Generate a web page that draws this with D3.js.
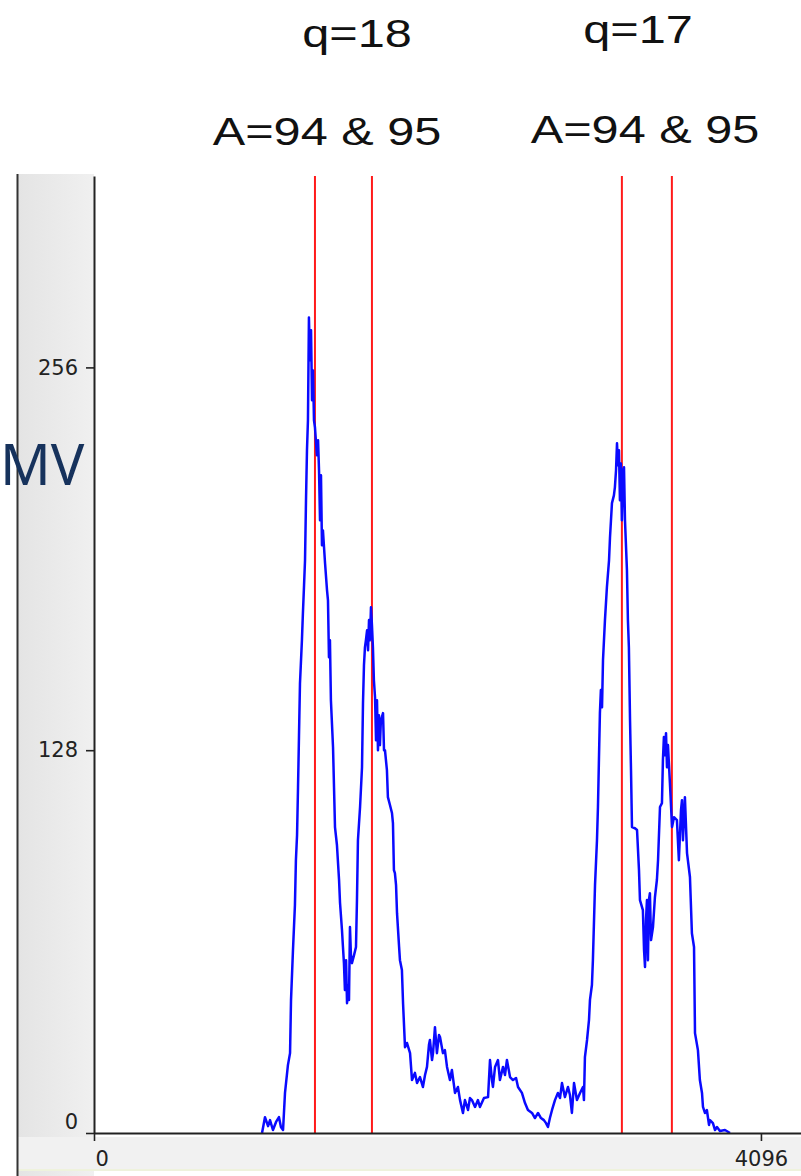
<!DOCTYPE html>
<html>
<head>
<meta charset="utf-8">
<script src="https://cdn.jsdelivr.net/npm/d3@7"></script>
<style>
  html, body { margin: 0; padding: 0; background: #fff; }
  svg { display: block; }
</style>
</head>
<body>
<svg id="chart" width="801" height="1176"></svg>
<script>
// Pulse-height spectrum: channel number vs counts
const channels = [1032,1050,1069,1081,1099,1118,1136,1148,1161,1173,1191,1204,1210,1222,1234,1240,1247,1253,1259,1265,1277,1283,1290,1296,1302,1308,1314,1320,1326,1333,1339,1345,1351,1357,1369,1376,1382,1388,1394,1400,1406,1419,1431,1437,1443,1449,1455,1468,1480,1492,1505,1511,1523,1529,1535,1541,1548,1554,1560,1566,1572,1578,1584,1597,1609,1615,1621,1634,1646,1652,1658,1664,1670,1677,1683,1689,1695,1701,1707,1713,1719,1726,1732,1738,1744,1750,1756,1762,1775,1781,1787,1799,1805,1818,1830,1836,1842,1848,1855,1861,1873,1879,1891,1898,1910,1922,1941,1953,1971,1984,2002,2020,2033,2045,2057,2063,2076,2082,2094,2106,2119,2125,2143,2155,2168,2186,2198,2217,2235,2248,2266,2278,2297,2309,2321,2340,2358,2370,2395,2420,2432,2444,2450,2463,2481,2493,2512,2524,2536,2555,2573,2592,2604,2628,2647,2665,2690,2708,2727,2745,2763,2776,2788,2800,2813,2831,2849,2862,2874,2892,2911,2923,2935,2948,2966,2985,3003,3009,3015,3028,3040,3046,3058,3064,3077,3089,3095,3101,3107,3113,3120,3126,3138,3150,3163,3169,3181,3193,3199,3206,3212,3218,3224,3230,3236,3242,3249,3255,3261,3273,3279,3285,3292,3298,3304,3322,3335,3347,3353,3371,3378,3384,3390,3396,3402,3408,3414,3421,3433,3445,3457,3464,3476,3488,3494,3500,3507,3513,3519,3525,3537,3550,3562,3580,3592,3605,3611,3617,3629,3642,3660,3672,3685,3691,3709,3721,3734,3740,3752,3764,3777,3783,3801,3814,3826,3844,3875,3906];
const counts = [0,5.3,2.3,4.3,1.0,3.7,5.3,2.0,1.0,13.4,22.7,26.7,44.5,61.2,76.2,91.2,99.6,115.6,133.0,150.4,164.8,173.8,183.2,191.5,211.6,228.3,238.3,272.7,258.4,268.4,245.0,255.0,238.3,236.0,226.6,231.6,221.6,204.9,219.9,196.5,201.5,190.5,181.5,178.1,159.1,164.8,144.7,129.0,102.3,96.3,84.6,76.9,67.8,62.2,56.8,47.8,57.8,43.4,49.5,44.5,68.9,59.5,56.8,59.5,62.2,77.9,97.9,109.0,122.3,143.7,156.4,162.4,164.8,168.1,161.4,171.5,164.8,175.8,169.8,162.4,151.4,145.7,131.3,144.7,128.0,139.7,129.7,138.0,140.4,128.0,128.0,121.3,112.3,109.6,107.0,103.6,87.9,86.9,82.9,73.5,62.8,57.8,54.5,43.4,28.7,30.1,26.7,17.7,20.1,16.7,18.7,15.4,19.4,22.1,29.4,31.1,24.4,26.7,35.4,26.7,32.8,32.1,26.7,27.7,22.1,17.7,21.1,13.4,15.4,11.0,6.7,11.0,7.7,11.7,11.0,8.7,11.0,8.7,11.7,12.0,24.4,17.7,15.4,22.1,24.4,17.7,22.1,19.4,24.4,18.7,17.7,18.4,15.4,13.4,10.0,7.7,6.7,5.0,6.7,5.0,4.3,3.3,2.0,5.0,7.7,11.0,13.4,11.7,16.7,12.0,15.4,12.7,6.7,16.7,11.0,13.4,15.4,11.0,25.4,31.1,37.8,44.5,49.5,57.8,82.9,97.9,109.0,124.7,140.4,148.1,142.4,158.1,171.5,182.5,191.5,199.2,210.6,213.2,215.9,221.6,230.6,223.3,228.3,211.6,223.9,204.9,221.6,222.6,204.9,188.2,171.5,162.4,138.0,121.3,102.3,101.9,101.3,87.9,77.9,74.5,61.2,55.5,71.2,77.9,57.8,77.9,80.2,64.5,68.9,78.9,84.6,91.2,109.0,110.3,124.7,132.4,126.3,133.7,122.3,129.7,117.0,102.3,105.6,104.6,91.2,108.0,111.3,97.9,112.3,93.6,85.6,66.8,62.2,33.4,27.7,17.7,13.4,8.7,6.7,7.7,2.7,4.3,3.3,1.0,2.0,0.7,1.0,0];

// Marker channels (vertical red lines)
const markerChannels = [1357, 1707, 3242, 3549];

// Axis ticks
const xTicks = [0, 4096];
const yTicks = [0, 128, 256];

// Peak-group annotations: text, channel of text centre, row
const annotationText = ["q=18", "A=94 & 95", "q=17", "A=94 & 95"];
const annotationChannel = [1615, 1431, 3341, 3384];
const annotationRow = [0, 1, 0, 1];

const yLabel = "MV";

const svg = d3.select("#chart");
const W = 801, H = 1176;

const x = d3.scaleLinear().domain([0, 4342]).range([94, 801]);
const y = d3.scaleLinear().domain([0, 320]).range([1133, 176]);

// widen text horizontally by a factor
function stretch(sel, f) {
  sel.each(function () {
    const w = this.getComputedTextLength();
    d3.select(this).attr("textLength", w * f).attr("lengthAdjust", "spacingAndGlyphs");
  });
}

// grey side panel holding the y tick labels
const grad = svg.append("defs").append("linearGradient").attr("id", "panel")
  .attr("x1", 0).attr("x2", 1).attr("y1", 0).attr("y2", 0);
grad.append("stop").attr("offset", 0).attr("stop-color", "#e4e4e4");
grad.append("stop").attr("offset", 1).attr("stop-color", "#f0f0f0");

svg.append("rect").attr("x", 18).attr("y", 174).attr("width", 76).attr("height", H - 174)
  .attr("fill", "url(#panel)");
svg.append("rect").attr("x", 18).attr("y", 1137).attr("width", W - 18).attr("height", 32)
  .attr("fill", "#f1f1f1");
svg.append("rect").attr("x", 18).attr("y", 1169).attr("width", W - 18).attr("height", 2)
  .attr("fill", "#eef2dc");
svg.append("line").attr("x1", 17.5).attr("x2", 17.5).attr("y1", 174).attr("y2", H)
  .attr("stroke", "#333").attr("stroke-width", 2);

// red marker lines
svg.append("g").selectAll("line").data(markerChannels).join("line")
  .attr("x1", d => x(d)).attr("x2", d => x(d))
  .attr("y1", y(320)).attr("y2", y(0))
  .attr("stroke", "#ff1a1a").attr("stroke-width", 2);

// spectrum trace
const pts = channels.map((c, i) => [c, counts[i]]);
svg.append("path").datum(pts)
  .attr("fill", "none").attr("stroke", "#0a0aff").attr("stroke-width", 2.5)
  .attr("stroke-linejoin", "round")
  .attr("d", d3.line().x(d => x(d[0])).y(d => y(d[1])));

// axes
const axisStyle = g => {
  g.select(".domain").attr("stroke", "#222").attr("stroke-width", 2);
  g.selectAll(".tick line").attr("stroke", "#222").attr("stroke-width", 1.6);
  g.selectAll(".tick text").attr("fill", "#222")
    .style("font-family", "'DejaVu Sans', sans-serif").style("font-size", "21px");
};

const yAxis = svg.append("g").attr("transform", "translate(94,0)")
  .call(d3.axisLeft(y).tickValues(yTicks).tickFormat(d3.format("d"))
    .tickSize(8).tickSizeOuter(0).tickPadding(8))
  .call(axisStyle);
yAxis.selectAll(".tick text").filter(d => d === 0).attr("dy", "-0.2em");

const xAxis = svg.append("g").attr("transform", "translate(0,1133)")
  .call(d3.axisBottom(x).tickValues(xTicks).tickFormat(d3.format("d"))
    .tickSize(8).tickSizeOuter(0).tickPadding(10))
  .call(axisStyle);
xAxis.selectAll(".tick text").filter(d => d === 0).attr("text-anchor", "start").attr("x", 1);

// annotations above each peak pair
const rowBaseline = [[47, 43], [145, 143]];
const ann = svg.append("g").selectAll("text").data(annotationText).join("text")
  .attr("x", (d, i) => x(annotationChannel[i]))
  .attr("y", (d, i) => rowBaseline[annotationRow[i]][i < 2 ? 0 : 1])
  .attr("text-anchor", "middle")
  .attr("fill", "#111")
  .style("font-family", "'Liberation Sans', Arial, sans-serif")
  .style("font-size", "38px")
  .text(d => d);
stretch(ann, 1.28);

// y-axis title
svg.append("text").attr("x", 0).attr("y", 485)
  .attr("fill", "#16325c")
  .style("font-family", "'Noto Sans', 'Open Sans', sans-serif")
  .style("font-size", "56px")
  .text(yLabel);
</script>
</body>
</html>
